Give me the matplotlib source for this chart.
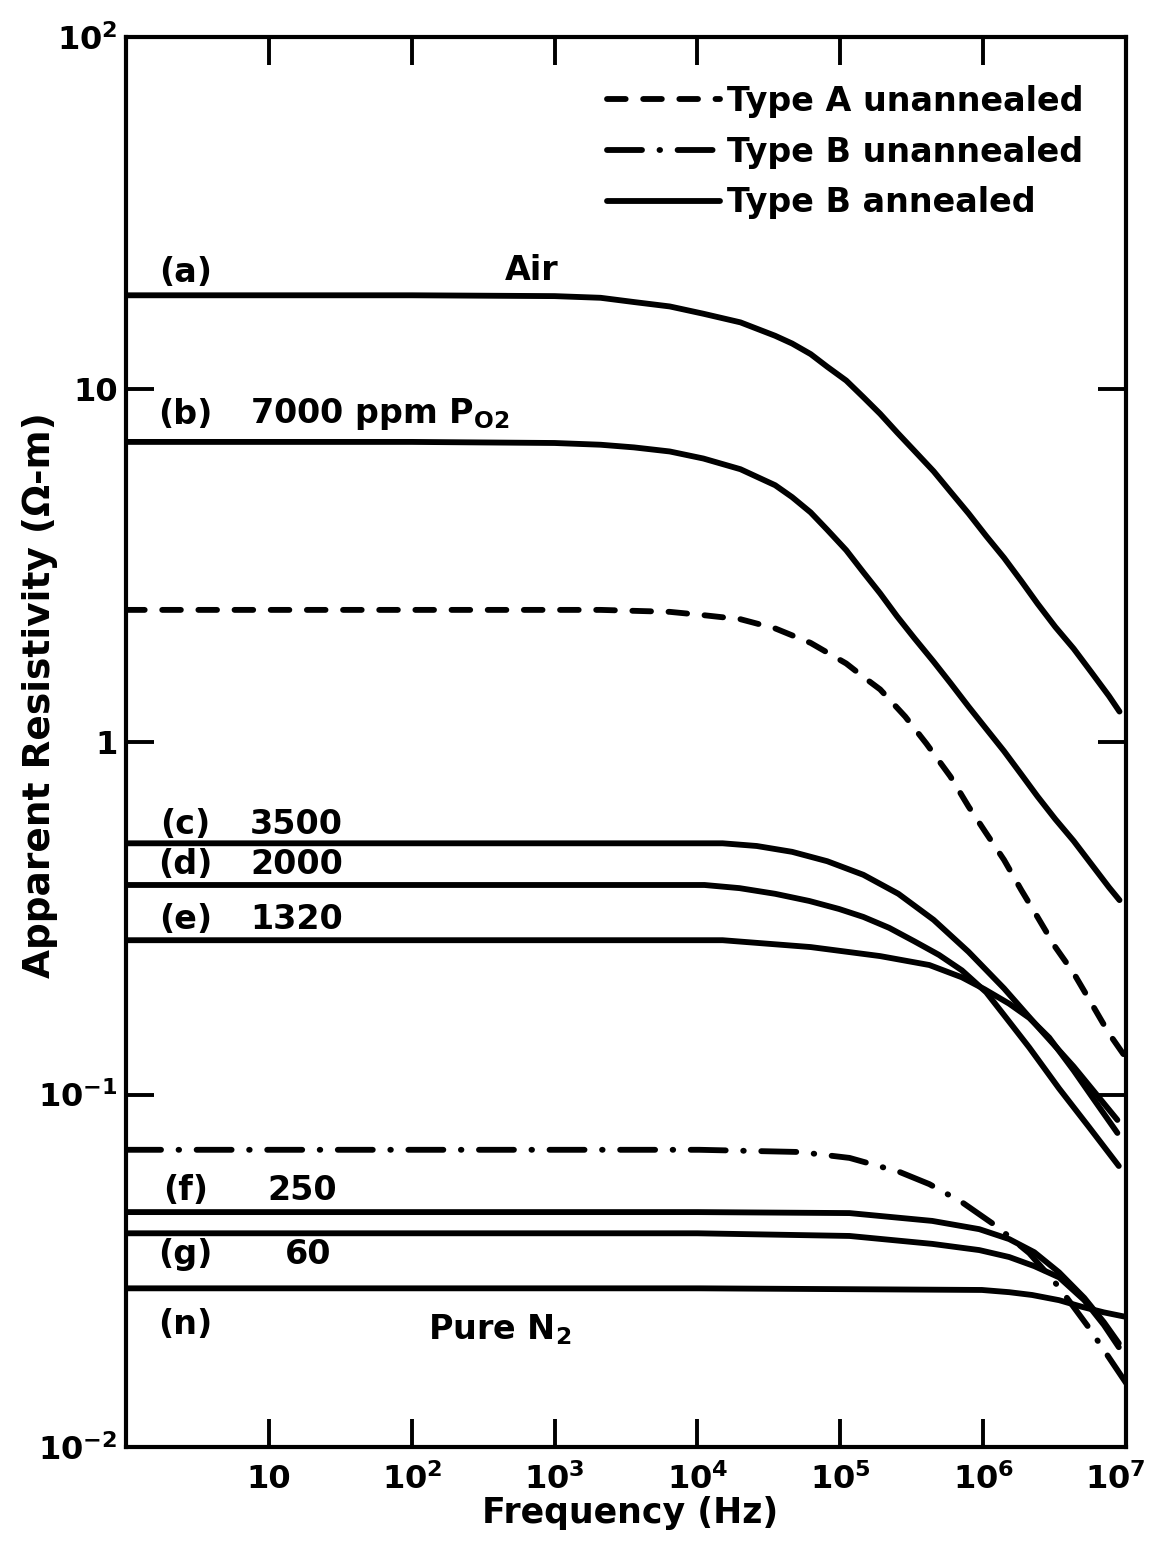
import matplotlib
matplotlib.use("Agg")
import matplotlib.pyplot as plt
from matplotlib.transforms import ScaledTranslation

# (a) Air, Type B annealed
freq_a = [1, 10, 100, 1e3, 2.1e3, 3.6e3, 6.4e3, 1.1e4, 2e4, 3.5e4, 4.6e4, 6.2e4, 8.1e4,
          1.1e5, 1.45e5, 1.9e5, 2.5e5, 3.3e5, 4.5e5, 5.9e5, 7.9e5, 1.05e6, 1.4e6,
          1.85e6, 2.4e6, 3.2e6, 4.3e6, 5.7e6, 7.6e6, 9e6]
rho_a = [18.5, 18.5, 18.5, 18.4, 18.2, 17.7, 17.2, 16.4, 15.5, 14.2, 13.5, 12.6, 11.6,
         10.6, 9.51, 8.53, 7.55, 6.70, 5.86, 5.13, 4.45, 3.84, 3.33,
         2.86, 2.47, 2.12, 1.84, 1.58, 1.35, 1.22]

# (b) 7000 ppm
freq_b = [1, 100, 1e3, 2.1e3, 3.6e3, 6.4e3, 1.1e4, 2e4, 3.5e4, 4.6e4, 6.2e4, 8.1e4,
          1.1e5, 1.45e5, 1.9e5, 2.5e5, 3.3e5, 4.5e5, 5.9e5, 7.9e5, 1.05e6, 1.4e6,
          1.85e6, 2.4e6, 3.2e6, 4.3e6, 5.7e6, 7.6e6, 9e6]
rho_b = [7.1, 7.1, 7.05, 6.97, 6.85, 6.67, 6.37, 5.94, 5.35, 4.95, 4.48, 4.00,
         3.50, 3.03, 2.64, 2.27, 1.97, 1.69, 1.47, 1.26, 1.09, 0.942,
         0.809, 0.701, 0.604, 0.524, 0.451, 0.387, 0.356]

# Type A unannealed (dashed)
freq_ta = [1, 2.1e3, 6.4e3, 1.1e4, 2e4, 3.5e4, 6.2e4, 1.1e5, 1.45e5, 1.9e5, 2.85e5,
           4e5, 5.9e5, 7.9e5, 1.05e6, 1.4e6, 1.85e6, 2.4e6, 3.2e6, 4.3e6, 5.7e6,
           7.6e6, 1e7]
rho_ta = [2.37, 2.37, 2.34, 2.29, 2.23, 2.10, 1.91, 1.67, 1.53, 1.41, 1.18,
          0.99, 0.798, 0.656, 0.551, 0.463, 0.380, 0.319, 0.262, 0.221, 0.182,
          0.149, 0.127]

# (c) 3500
freq_c = [1, 1e3, 1.5e4, 2.6e4, 4.6e4, 8.1e4, 1.45e5, 2.55e5, 4.5e5, 7.9e5, 1.4e6,
          2.4e6, 4.3e6, 8.7e6]
rho_c = [0.516, 0.516, 0.516, 0.507, 0.488, 0.459, 0.420, 0.371, 0.313, 0.254, 0.200,
         0.156, 0.120, 0.0847]

# (d) 2000
freq_d = [1, 1e3, 1.12e4, 1.97e4, 3.5e4, 6.07e4, 9.8e4, 1.45e5, 2.2e5, 3.3e5, 4.9e5,
          7.1e5, 1.05e6, 1.4e6, 2.1e6, 3.4e6, 5.5e6, 8.9e6]
rho_d = [0.393, 0.393, 0.393, 0.385, 0.371, 0.354, 0.336, 0.319, 0.297, 0.272, 0.249,
         0.225, 0.195, 0.168, 0.136, 0.104, 0.0809, 0.0627]

# (e) 1320
freq_e = [1, 1e3, 1.5e4, 6.2e4, 1.9e5, 4.2e5, 7.1e5, 1.02e6, 1.52e6, 2.1e6, 2.9e6,
          4.3e6, 6.0e6, 8.7e6]
rho_e = [0.274, 0.274, 0.274, 0.262, 0.247, 0.233, 0.215, 0.199, 0.181, 0.165, 0.145,
         0.117, 0.0964, 0.0778]

# Type B unannealed (dash-dot)
freq_tb = [1, 1.03e4, 5.2e4, 1.16e5, 2.6e5, 4.2e5, 7.1e5, 1.23e6, 2.1e6, 3.4e6, 5.5e6, 1e7]
rho_tb = [0.0697, 0.0697, 0.0687, 0.0661, 0.0603, 0.0557, 0.0495, 0.0424, 0.0355,
          0.0284, 0.0218, 0.0152]

# (f) 250
freq_f = [1, 1e4, 1.16e5, 4.4e5, 9.4e5, 1.52e6, 2.28e6, 3.4e6, 5.1e6, 7.0e6, 8.9e6]
rho_f = [0.0464, 0.0464, 0.0461, 0.0438, 0.0415, 0.0389, 0.0357, 0.0313, 0.0265,
         0.0226, 0.0197]

# (g) 60
freq_g = [1, 1e4, 1.16e5, 4.4e5, 9.4e5, 1.52e6, 2.28e6, 3.4e6, 5.1e6, 7.0e6, 8.9e6]
rho_g = [0.0404, 0.0404, 0.0397, 0.0377, 0.0362, 0.0346, 0.0326, 0.0303, 0.0261,
         0.0222, 0.0192]

# (n) pure N2
freq_n = [1, 1.03e4, 9.8e5, 1.52e6, 2.2e6, 3.4e6, 4.9e6, 7.0e6, 1e7]
rho_n = [0.0282, 0.0282, 0.0279, 0.0275, 0.0270, 0.0261, 0.0250, 0.0241, 0.0234]

xtick_vals = [10, 1e2, 1e3, 1e4, 1e5, 1e6, 1e7]
xtick_labels = ["10", "$10^{2}$", "$10^{3}$", "$10^{4}$", "$10^{5}$", "$10^{6}$", "$10^{7}$"]
ytick_vals = [1e-2, 1e-1, 1, 10, 1e2]
ytick_labels = ["$10^{-2}$", "$10^{-1}$", "1", "10", "$10^{2}$"]

plt.rcParams['font.family'] = ['DejaVu Sans']
plt.rcParams['font.weight'] = 'bold'
plt.rcParams['axes.labelweight'] = 'bold'
plt.rcParams['mathtext.fontset'] = 'dejavusans'
plt.rcParams['mathtext.default'] = 'bf'

fig = plt.figure(figsize=(11.51, 15.46), dpi=100)
ax = fig.add_axes([0.1095, 0.0640, 0.8688, 0.9121])

lw = 4.2
solid = dict(color='black', lw=lw, solid_capstyle='round')
dashed = dict(color='black', lw=lw, ls=(0, (3.2, 3.0)), dash_capstyle='round')
dashdot = dict(color='black', lw=lw, ls=(0, (6.0, 3.0, 0.1, 3.0)), dash_capstyle='round')

ln_sol, = ax.plot(freq_a, rho_a, **solid)
ax.plot(freq_b, rho_b, **solid)
ln_da, = ax.plot(freq_ta, rho_ta, **dashed)
ax.plot(freq_c, rho_c, **solid)
ax.plot(freq_d, rho_d, **solid)
ax.plot(freq_e, rho_e, **solid)
ln_dd, = ax.plot(freq_tb, rho_tb, **dashdot)
ax.plot(freq_f, rho_f, **solid)
ax.plot(freq_g, rho_g, **solid)
ax.plot(freq_n, rho_n, **solid)

ax.set_xscale('log')
ax.set_yscale('log')
ax.set_xlim(1, 1e7)
ax.set_ylim(1e-2, 1e2)

ax.set_xticks(xtick_vals)
ax.set_xticklabels(xtick_labels)
ax.set_yticks(ytick_vals)
ax.set_yticklabels(ytick_labels)
ax.minorticks_off()
ax.tick_params(axis='both', direction='in', length=20, width=2.8, labelsize=23,
               top=True, right=True)
ax.tick_params(axis='x', pad=12)
ax.tick_params(axis='y', pad=6)
for sp in ax.spines.values():
    sp.set_linewidth(3)

# keep the last x label inside the figure
last = ax.get_xticklabels()[-1]
last.set_transform(last.get_transform() + ScaledTranslation(-8 / 72, 0, fig.dpi_scale_trans))

ax.set_xlabel("Frequency (Hz)", fontsize=25)
ax.xaxis.set_label_coords(0.504, -0.035)
ax.set_ylabel("Apparent Resistivity (Ω-m)", fontsize=27)
ax.yaxis.set_label_coords(-0.068, 0.533)

ax.legend([ln_da, ln_dd, ln_sol],
          ["Type A unannealed", "Type B unannealed", "Type B annealed"],
          loc='upper left', bbox_to_anchor=(0.481, 0.966), frameon=False,
          fontsize=24, handlelength=3.4, handletextpad=0.2, labelspacing=0.53,
          borderpad=0, borderaxespad=0)

fs = 24
ax.text(2.6, 21.5, "(a)", fontsize=fs, ha='center', va='center')
ax.text(690, 21.8, "Air", fontsize=fs, ha='center', va='center')
ax.text(2.6, 8.5, "(b)", fontsize=fs, ha='center', va='center')
ax.text(7.4, 8.5, "7000 ppm P$_{O2}$", fontsize=fs, ha='left', va='center')
ax.text(2.6, 0.582, "(c)", fontsize=fs, ha='center', va='center')
ax.text(7.4, 0.582, "3500", fontsize=fs, ha='left', va='center')
ax.text(2.6, 0.448, "(d)", fontsize=fs, ha='center', va='center')
ax.text(7.4, 0.448, "2000", fontsize=fs, ha='left', va='center')
ax.text(2.6, 0.313, "(e)", fontsize=fs, ha='center', va='center')
ax.text(7.4, 0.313, "1320", fontsize=fs, ha='left', va='center')
ax.text(2.6, 0.0536, "(f)", fontsize=fs, ha='center', va='center')
ax.text(9.8, 0.0536, "250", fontsize=fs, ha='left', va='center')
ax.text(2.6, 0.0351, "(g)", fontsize=fs, ha='center', va='center')
ax.text(12.9, 0.0351, "60", fontsize=fs, ha='left', va='center')
ax.text(2.6, 0.0222, "(n)", fontsize=fs, ha='center', va='center')
ax.text(129, 0.0215, "Pure N$_2$", fontsize=fs, ha='left', va='center')

fig.savefig("out.png", dpi=100)
